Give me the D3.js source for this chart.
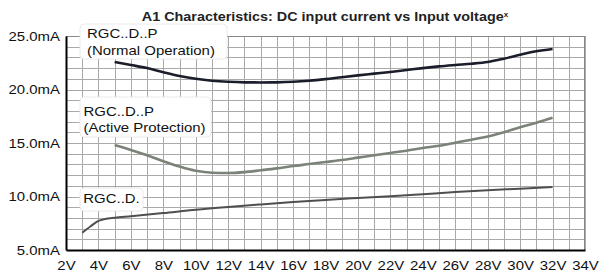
<!DOCTYPE html>
<html>
<head>
<meta charset="utf-8">
<script src="https://cdn.jsdelivr.net/npm/d3@7"></script>
<style>
  body { margin: 0; background: #fff; }
  svg { display: block; font-family: Arial, 'Liberation Sans', sans-serif; }
</style>
</head>
<body>
<svg id="chart" width="603" height="275"></svg>
<script>
// chart data
const voltsP = [5, 6, 7, 8, 9, 10, 11, 12, 13, 14, 15, 16, 17, 18, 19, 20, 21, 22, 23, 24, 25, 26, 27, 28, 29, 30, 31, 32];
const normalOp = [22.57, 22.29, 22.0, 21.62, 21.27, 21.0, 20.82, 20.72, 20.67, 20.66, 20.67, 20.72, 20.82, 20.97, 21.15, 21.32, 21.48, 21.64, 21.82, 22.0, 22.16, 22.29, 22.41, 22.57, 22.88, 23.25, 23.57, 23.79];
const activeProt = [14.81, 14.35, 13.85, 13.3, 12.8, 12.4, 12.22, 12.2, 12.28, 12.45, 12.63, 12.85, 13.03, 13.22, 13.41, 13.63, 13.85, 14.07, 14.28, 14.53, 14.75, 15.03, 15.31, 15.6, 16.0, 16.47, 16.9, 17.37];
const voltsD = [3, 3.5, 4, 4.4, 5, 6, 8, 10, 12, 14, 16, 18, 20, 22, 24, 26, 28, 30, 32];
const plainD = [6.62, 7.2, 7.72, 7.9, 8.02, 8.15, 8.45, 8.77, 9.03, 9.26, 9.48, 9.68, 9.86, 10.03, 10.22, 10.41, 10.58, 10.73, 10.89];
const xTicks = [2, 4, 6, 8, 10, 12, 14, 16, 18, 20, 22, 24, 26, 28, 30, 32, 34];
const yTicks = [5, 10, 15, 20, 25];
const labelNormal = ['RGC..D..P', '(Normal Operation)'];
const labelActive = ['RGC..D..P', '(Active Protection)'];
const labelPlain = ['RGC..D.'];

const stretch = 1.15; // the original text is a bit wide
const svg = d3.select('#chart');
const x = d3.scaleLinear().domain([2, 34]).range([66, 585]);
const y = d3.scaleLinear().domain([5, 25]).range([250, 36]);

// title
const title = svg.append('text')
  .attr('transform', 'translate(325,20.5) scale(' + stretch + ',1)')
  .attr('text-anchor', 'middle')
  .attr('font-size', '12.5px')
  .attr('font-weight', 'bold')
  .attr('fill', '#222');
title.append('tspan').text('A1 Characteristics: DC input current vs Input voltage');
title.append('tspan').attr('font-size', '7px').attr('dy', '-4').text('x');

// grid
const grid = svg.append('g').attr('stroke', '#a9a9a9').attr('stroke-width', 1);
grid.selectAll('.vx').data(d3.range(3, 35)).enter().append('line')
  .attr('x1', d => Math.round(x(d)) + 0.5).attr('x2', d => Math.round(x(d)) + 0.5)
  .attr('y1', y(25)).attr('y2', y(5));
grid.selectAll('.hy').data(d3.range(6, 26)).enter().append('line')
  .attr('x1', x(2)).attr('x2', x(34))
  .attr('y1', d => Math.round(y(d)) + 0.5).attr('y2', d => Math.round(y(d)) + 0.5);
svg.append('line').attr('x1', x(2)).attr('x2', x(34))
  .attr('y1', y(25) + 0.5).attr('y2', y(25) + 0.5).attr('stroke', '#888');
svg.append('line').attr('x1', x(34) - 0.5).attr('x2', x(34) - 0.5)
  .attr('y1', y(25)).attr('y2', y(5)).attr('stroke', '#888');

// axes
const xAxis = svg.append('g').attr('transform', 'translate(0,' + y(5) + ')')
  .call(d3.axisBottom(x).tickValues(xTicks).tickSize(0).tickFormat(d => d + 'V'));
const yAxis = svg.append('g').attr('transform', 'translate(' + x(2) + ',0)')
  .call(d3.axisLeft(y).tickValues(yTicks).tickSize(0).tickFormat(d => d.toFixed(1) + 'mA'));
[xAxis, yAxis].forEach(function (a) {
  a.select('.domain').attr('stroke', '#000').attr('stroke-width', 2);
  a.selectAll('text').attr('font-size', '13px').attr('fill', '#111')
    .attr('font-family', 'Arial, Liberation Sans, sans-serif');
});
xAxis.selectAll('text').attr('y', 0).attr('dy', 0)
  .attr('transform', 'translate(0,20) scale(' + stretch + ',1)');
yAxis.selectAll('text').attr('x', 0).attr('dy', 0)
  .attr('transform', 'translate(-6,4) scale(' + stretch + ',1)');

// curves
const line = d3.line().curve(d3.curveMonotoneX).x(d => x(d[0])).y(d => y(d[1]));
svg.append('path').datum(d3.zip(voltsP, normalOp)).attr('d', line)
  .attr('fill', 'none').attr('stroke', '#1b1d2a').attr('stroke-width', 2.6);
svg.append('path').datum(d3.zip(voltsP, activeProt)).attr('d', line)
  .attr('fill', 'none').attr('stroke', '#7b8378').attr('stroke-width', 2.6);
svg.append('path').datum(d3.zip(voltsD, plainD)).attr('d', line)
  .attr('fill', 'none').attr('stroke', '#4f4f4f').attr('stroke-width', 2);

// label boxes
function labelBox (lines, bx, by, bw, bh, tx, ty, gap) {
  const g = svg.append('g');
  g.append('rect').attr('x', bx).attr('y', by).attr('width', bw).attr('height', bh)
    .attr('rx', 4).attr('fill', '#fff').attr('stroke', '#e4e4e4').attr('stroke-width', 0.8);
  g.selectAll('text').data(lines).enter().append('text')
    .attr('transform', (d, i) => 'translate(' + tx + ',' + (ty + i * gap) + ') scale(' + stretch + ',1)')
    .attr('font-size', '13px').attr('fill', '#111')
    .text(d => d);
}
labelBox(labelNormal, 80, 24, 147, 35, 87, 37.5, 17.5);
labelBox(labelActive, 80, 97, 131, 40, 83.5, 115.5, 16);
labelBox(labelPlain, 80, 188, 63, 23, 83.3, 202.5, 0);
</script>
</body>
</html>
